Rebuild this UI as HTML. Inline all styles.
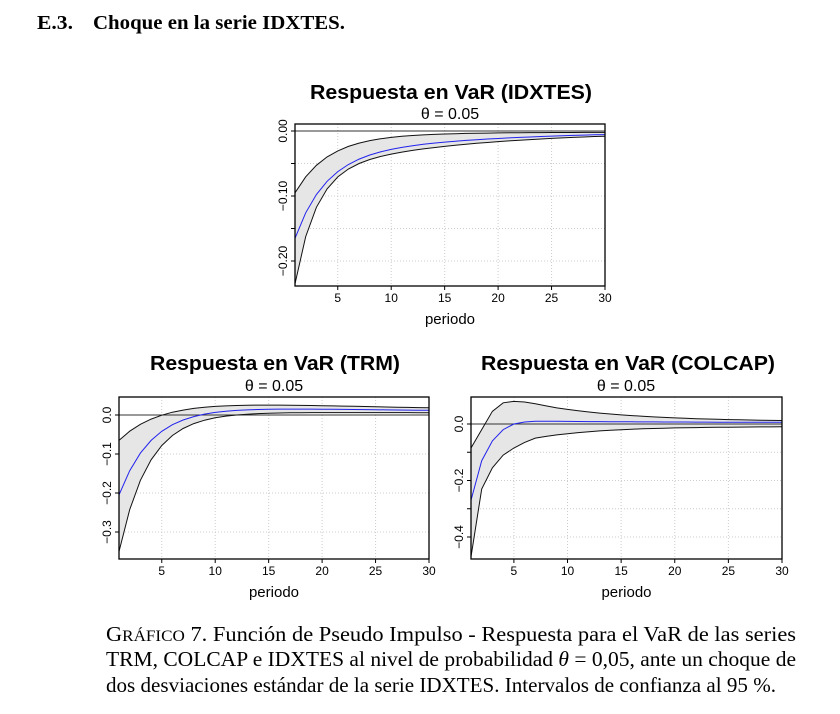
<!DOCTYPE html>
<html><head><meta charset="utf-8"><style>
html,body{margin:0;padding:0;background:#fff;}
svg{display:block;}
.t{font-family:"Liberation Sans",sans-serif;}
.s{font-family:"Liberation Serif",serif;}
</style></head><body>
<svg id="sv" width="840" height="714" viewBox="0 0 840 714" xmlns="http://www.w3.org/2000/svg">
<text class="s" x="37" y="29" font-size="20" font-weight="bold" textLength="36" lengthAdjust="spacingAndGlyphs">E.3.</text>
<text class="s" x="93" y="29" font-size="20" font-weight="bold" textLength="252" lengthAdjust="spacingAndGlyphs">Choque en la serie IDXTES.</text>
<text class="t" x="310" y="99" font-size="20" font-weight="bold" textLength="282" lengthAdjust="spacingAndGlyphs">Respuesta en VaR (IDXTES)</text>
<text class="t" x="450" y="119" font-size="16" text-anchor="middle">θ = 0.05</text>
<text class="t" x="150" y="370" font-size="20" font-weight="bold" textLength="250" lengthAdjust="spacingAndGlyphs">Respuesta en VaR (TRM)</text>
<text class="t" x="274" y="391" font-size="16" text-anchor="middle">θ = 0.05</text>
<text class="t" x="481" y="370" font-size="20" font-weight="bold" textLength="294" lengthAdjust="spacingAndGlyphs">Respuesta en VaR (COLCAP)</text>
<text class="t" x="626" y="391" font-size="16" text-anchor="middle">θ = 0.05</text>
<text class="s" x="106" y="641" font-size="21" textLength="690" lengthAdjust="spacingAndGlyphs">G<tspan font-size="16">RÁFICO</tspan> 7.  Función de Pseudo Impulso - Respuesta para el VaR de las series</text>
<text class="s" x="106" y="666" font-size="21" textLength="690" lengthAdjust="spacingAndGlyphs">TRM, COLCAP e IDXTES al nivel de probabilidad <tspan font-style="italic">θ</tspan> = 0,05, ante un choque de</text>
<text class="s" x="106" y="692" font-size="21" textLength="670" lengthAdjust="spacingAndGlyphs">dos desviaciones estándar de la serie IDXTES. Intervalos de confianza al 95 %.</text>
<g id="charts"></g>
</svg>
<script>
function P(x){return Math.pow.apply(null,arguments);}
var charts=[
{x0:295,x1:605,y0:124,y1:286,zy:131,k:650,yt:[[0,"0.00"],[-0.05,""],[-0.1,"-0.10"],[-0.15,""],[-0.2,"-0.20"]],
 up:function(t){return -0.07*P(0.7,t-1)-0.025*P(0.85,t-1)-0.002*(1-P(0.9,t-1));},
 mid:function(t){return -0.12*P(0.7,t-1)-0.045*P(0.93,t-1);},
 lo:function(t){return -0.17*P(0.6,t-1)-0.065*P(0.93,t-1);}},
{x0:119,x1:429,y0:397,y1:559,zy:415,k:390,yt:[[0,"0.0"],[-0.1,"-0.1"],[-0.2,"-0.2"],[-0.3,"-0.3"]],
 up:function(t){return -0.065*P(0.74,t-1)+0.045*(1-P(0.85,t-1))*P(0.97,t-1);},
 mid:function(t){return -0.205*P(0.72,t-1)+0.025*(1-P(0.8,t-1))*P(0.975,t-1);},
 lo:function(t){return -0.35*P(0.7,t-1)+0.008*(1-P(0.7,t-1))*P(0.99,t-1);}},
{x0:471,x1:782,y0:397,y1:559,zy:424,k:282.5,yt:[[0,"0.0"],[-0.1,""],[-0.2,"-0.2"],[-0.3,""],[-0.4,"-0.4"]],
 up:function(t){var a=[-0.085,-0.02,0.045,0.075,0.08,0.078,0.072,0.064,0.057];return t<=9?a[t-1]:0.008+0.049*P(0.89,t-9);},
 mid:function(t){var a=[-0.27,-0.13,-0.06,-0.02,0,0.007,0.01];return t<=7?a[t-1]:0.004+0.006*P(0.95,t-7);},
 lo:function(t){var a=[-0.47,-0.23,-0.155,-0.11,-0.085,-0.065,-0.05];return t<=7?a[t-1]:-0.009-0.041*P(0.85,t-7);}}
];
var h="";
charts.forEach(function(c){
 var X=function(t){return c.x0+(t-1)*(c.x1-c.x0)/29;},Y=function(v){return c.zy-v*c.k;};
 for(var t=5;t<=30;t+=5){h+='<line x1="'+X(t)+'" y1="'+c.y0+'" x2="'+X(t)+'" y2="'+c.y1+'" stroke="#ccc" stroke-dasharray="1,2"/>';
  h+='<line x1="'+X(t)+'" y1="'+c.y1+'" x2="'+X(t)+'" y2="'+(c.y1+4)+'" stroke="#000"/>';
  h+='<text class="t" x="'+X(t)+'" y="'+(c.y1+16)+'" font-size="12" text-anchor="middle">'+t+'</text>';}
 c.yt.forEach(function(v){var y=Y(v[0]);h+='<line x1="'+c.x0+'" y1="'+y+'" x2="'+c.x1+'" y2="'+y+'" stroke="#ccc" stroke-dasharray="1,2"/>';
  h+='<line x1="'+(c.x0-4)+'" y1="'+y+'" x2="'+c.x0+'" y2="'+y+'" stroke="#000"/>';
  if(v[1])h+='<text class="t" transform="translate('+(c.x0-8)+','+y+') rotate(-90)" font-size="12" text-anchor="middle">'+v[1].replace("-","−")+'</text>';});
 var u=[],l=[],m=[];
 for(var t=1;t<=30;t++){u.push(X(t).toFixed(1)+','+Y(c.up(t)).toFixed(1));l.push(X(t).toFixed(1)+','+Y(c.lo(t)).toFixed(1));m.push(X(t).toFixed(1)+','+Y(c.mid(t)).toFixed(1));}
 h+='<polygon points="'+u.join(' ')+' '+l.slice().reverse().join(' ')+'" fill="#e6e6e6"/>';
 h+='<line x1="'+c.x0+'" y1="'+c.zy+'" x2="'+c.x1+'" y2="'+c.zy+'" stroke="#333" stroke-width="1"/>';
 h+='<polyline points="'+u.join(' ')+'" fill="none" stroke="#111" stroke-width="1"/>';
 h+='<polyline points="'+l.join(' ')+'" fill="none" stroke="#111" stroke-width="1"/>';
 h+='<polyline points="'+m.join(' ')+'" fill="none" stroke="#2222ee" stroke-width="1"/>';
 h+='<rect x="'+c.x0+'" y="'+c.y0+'" width="'+(c.x1-c.x0)+'" height="'+(c.y1-c.y0)+'" fill="none" stroke="#000" stroke-width="1.3"/>';
 h+='<text class="t" x="'+((c.x0+c.x1)/2)+'" y="'+(c.y1+38)+'" font-size="15" text-anchor="middle">periodo</text>';
});
document.getElementById("charts").innerHTML=h;
</script>
</body></html>
